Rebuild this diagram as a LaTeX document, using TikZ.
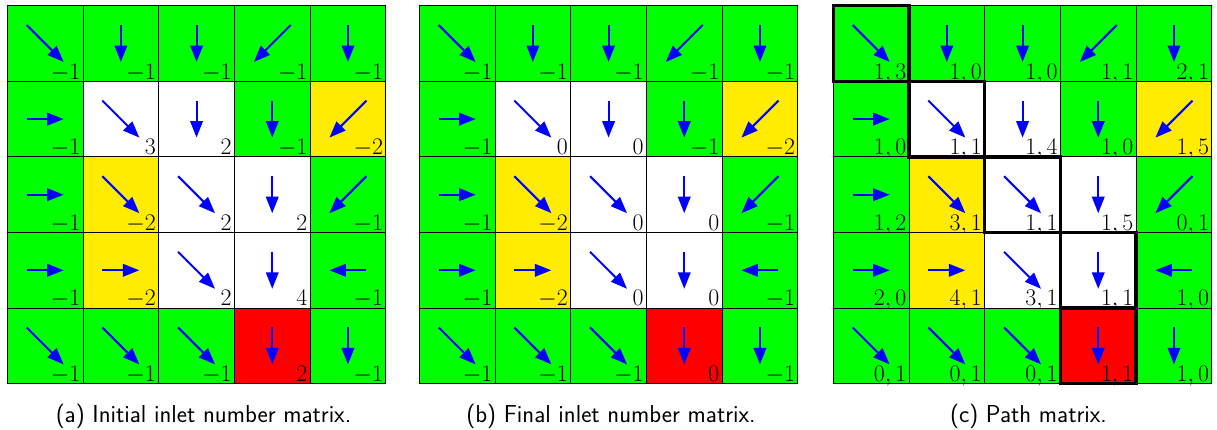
\documentclass[tikz,border=0pt]{standalone}
\usepackage{fix-cm}
\usetikzlibrary{arrows.meta}
\definecolor{G}{RGB}{0,255,0}
\definecolor{Y}{RGB}{255,236,0}
\definecolor{R}{RGB}{255,0,0}
\definecolor{W}{RGB}{255,255,255}
\definecolor{cblue}{RGB}{0,0,255}
\tikzset{
  cellbox/.style={draw=black, line width=0.9pt, minimum width=75.7pt, minimum height=75.6pt, inner sep=0pt, outer sep=0pt, anchor=north west},
  flow/.style={cblue, line width=2.1pt, -{Triangle[length=16.5pt,width=12.5pt]}},
  num/.style={anchor=base east, inner sep=0pt, font=\fontsize{23.8}{27}\selectfont},
  captext/.style={font=\sffamily\fontsize{24.5}{28}\selectfont, anchor=base, inner sep=0pt},
  pathbox/.style={draw=black, line width=3.3pt}
}
\begin{document}
\begin{tikzpicture}[x=1pt,y=-1pt]
\useasboundingbox (0,0) rectangle (1217,429);
\foreach \r/\c/\col/\dx/\dy/\na/\nb/\nc in {
  0/0/G/1/-1/-1/-1/{1,3}, 0/1/G/0/-1/-1/-1/{1,0}, 0/2/G/0/-1/-1/-1/{1,0}, 0/3/G/-1/-1/-1/-1/{1,1}, 0/4/G/0/-1/-1/-1/{2,1},
  1/0/G/1/0/-1/-1/{1,0}, 1/1/W/1/-1/3/0/{1,1}, 1/2/W/0/-1/2/0/{1,4}, 1/3/G/0/-1/-1/-1/{1,0}, 1/4/Y/-1/-1/-2/-2/{1,5},
  2/0/G/1/0/-1/-1/{1,2}, 2/1/Y/1/-1/-2/-2/{3,1}, 2/2/W/1/-1/2/0/{1,1}, 2/3/W/0/-1/2/0/{1,5}, 2/4/G/-1/-1/-1/-1/{0,1},
  3/0/G/1/0/-1/-1/{2,0}, 3/1/Y/1/0/-2/-2/{4,1}, 3/2/W/1/-1/2/0/{3,1}, 3/3/W/0/-1/4/0/{1,1}, 3/4/G/-1/0/-1/-1/{1,0},
  4/0/G/1/-1/-1/-1/{0,1}, 4/1/G/1/-1/-1/-1/{0,1}, 4/2/G/1/-1/-1/-1/{0,1}, 4/3/R/0/-1/2/0/{1,1}, 4/4/G/0/-1/-1/-1/{1,0}}
{
  % grid (a)
  \node[cellbox, fill=\col] (a-\r-\c) at ({7.3+\c*75.7},{5.7+\r*75.6}) {};
  \draw[flow] ([xshift={-18.5*(\dx)}, yshift={-18.5*(\dy)}]a-\r-\c.center) -- ([xshift={18.5*(\dx)}, yshift={18.5*(\dy)}]a-\r-\c.center);
  \node[num] (a-\r-\c-n) at ([xshift=-2.6pt, yshift=2.3pt]a-\r-\c.south east) {$\na$};
  % grid (b)
  \node[cellbox, fill=\col] (b-\r-\c) at ({419.3+\c*75.7},{5.7+\r*75.6}) {};
  \draw[flow] ([xshift={-18.5*(\dx)}, yshift={-18.5*(\dy)}]b-\r-\c.center) -- ([xshift={18.5*(\dx)}, yshift={18.5*(\dy)}]b-\r-\c.center);
  \node[num] (b-\r-\c-n) at ([xshift=-2.6pt, yshift=2.3pt]b-\r-\c.south east) {$\nb$};
  % grid (c)
  \node[cellbox, fill=\col] (c-\r-\c) at ({833.3+\c*75.7},{5.7+\r*75.6}) {};
  \draw[flow] ([xshift={-18.5*(\dx)}, yshift={-18.5*(\dy)}]c-\r-\c.center) -- ([xshift={18.5*(\dx)}, yshift={18.5*(\dy)}]c-\r-\c.center);
  \node[num] (c-\r-\c-n) at ([xshift=-2.6pt, yshift=2.3pt]c-\r-\c.south east) {$\nc$};
}
\foreach \r/\c in {0/0, 1/1, 2/2, 3/3, 4/3}
  \draw[pathbox] (c-\r-\c.north west) rectangle (c-\r-\c.south east);
\node[captext] (capa) at (203.5,422.5) {(a) Initial inlet number matrix.};
\node[captext] (capb) at (611,422.5) {(b) Final inlet number matrix.};
\node[captext] (capc) at (1028.5,422.5) {(c) Path matrix.};
\end{tikzpicture}
\end{document}
